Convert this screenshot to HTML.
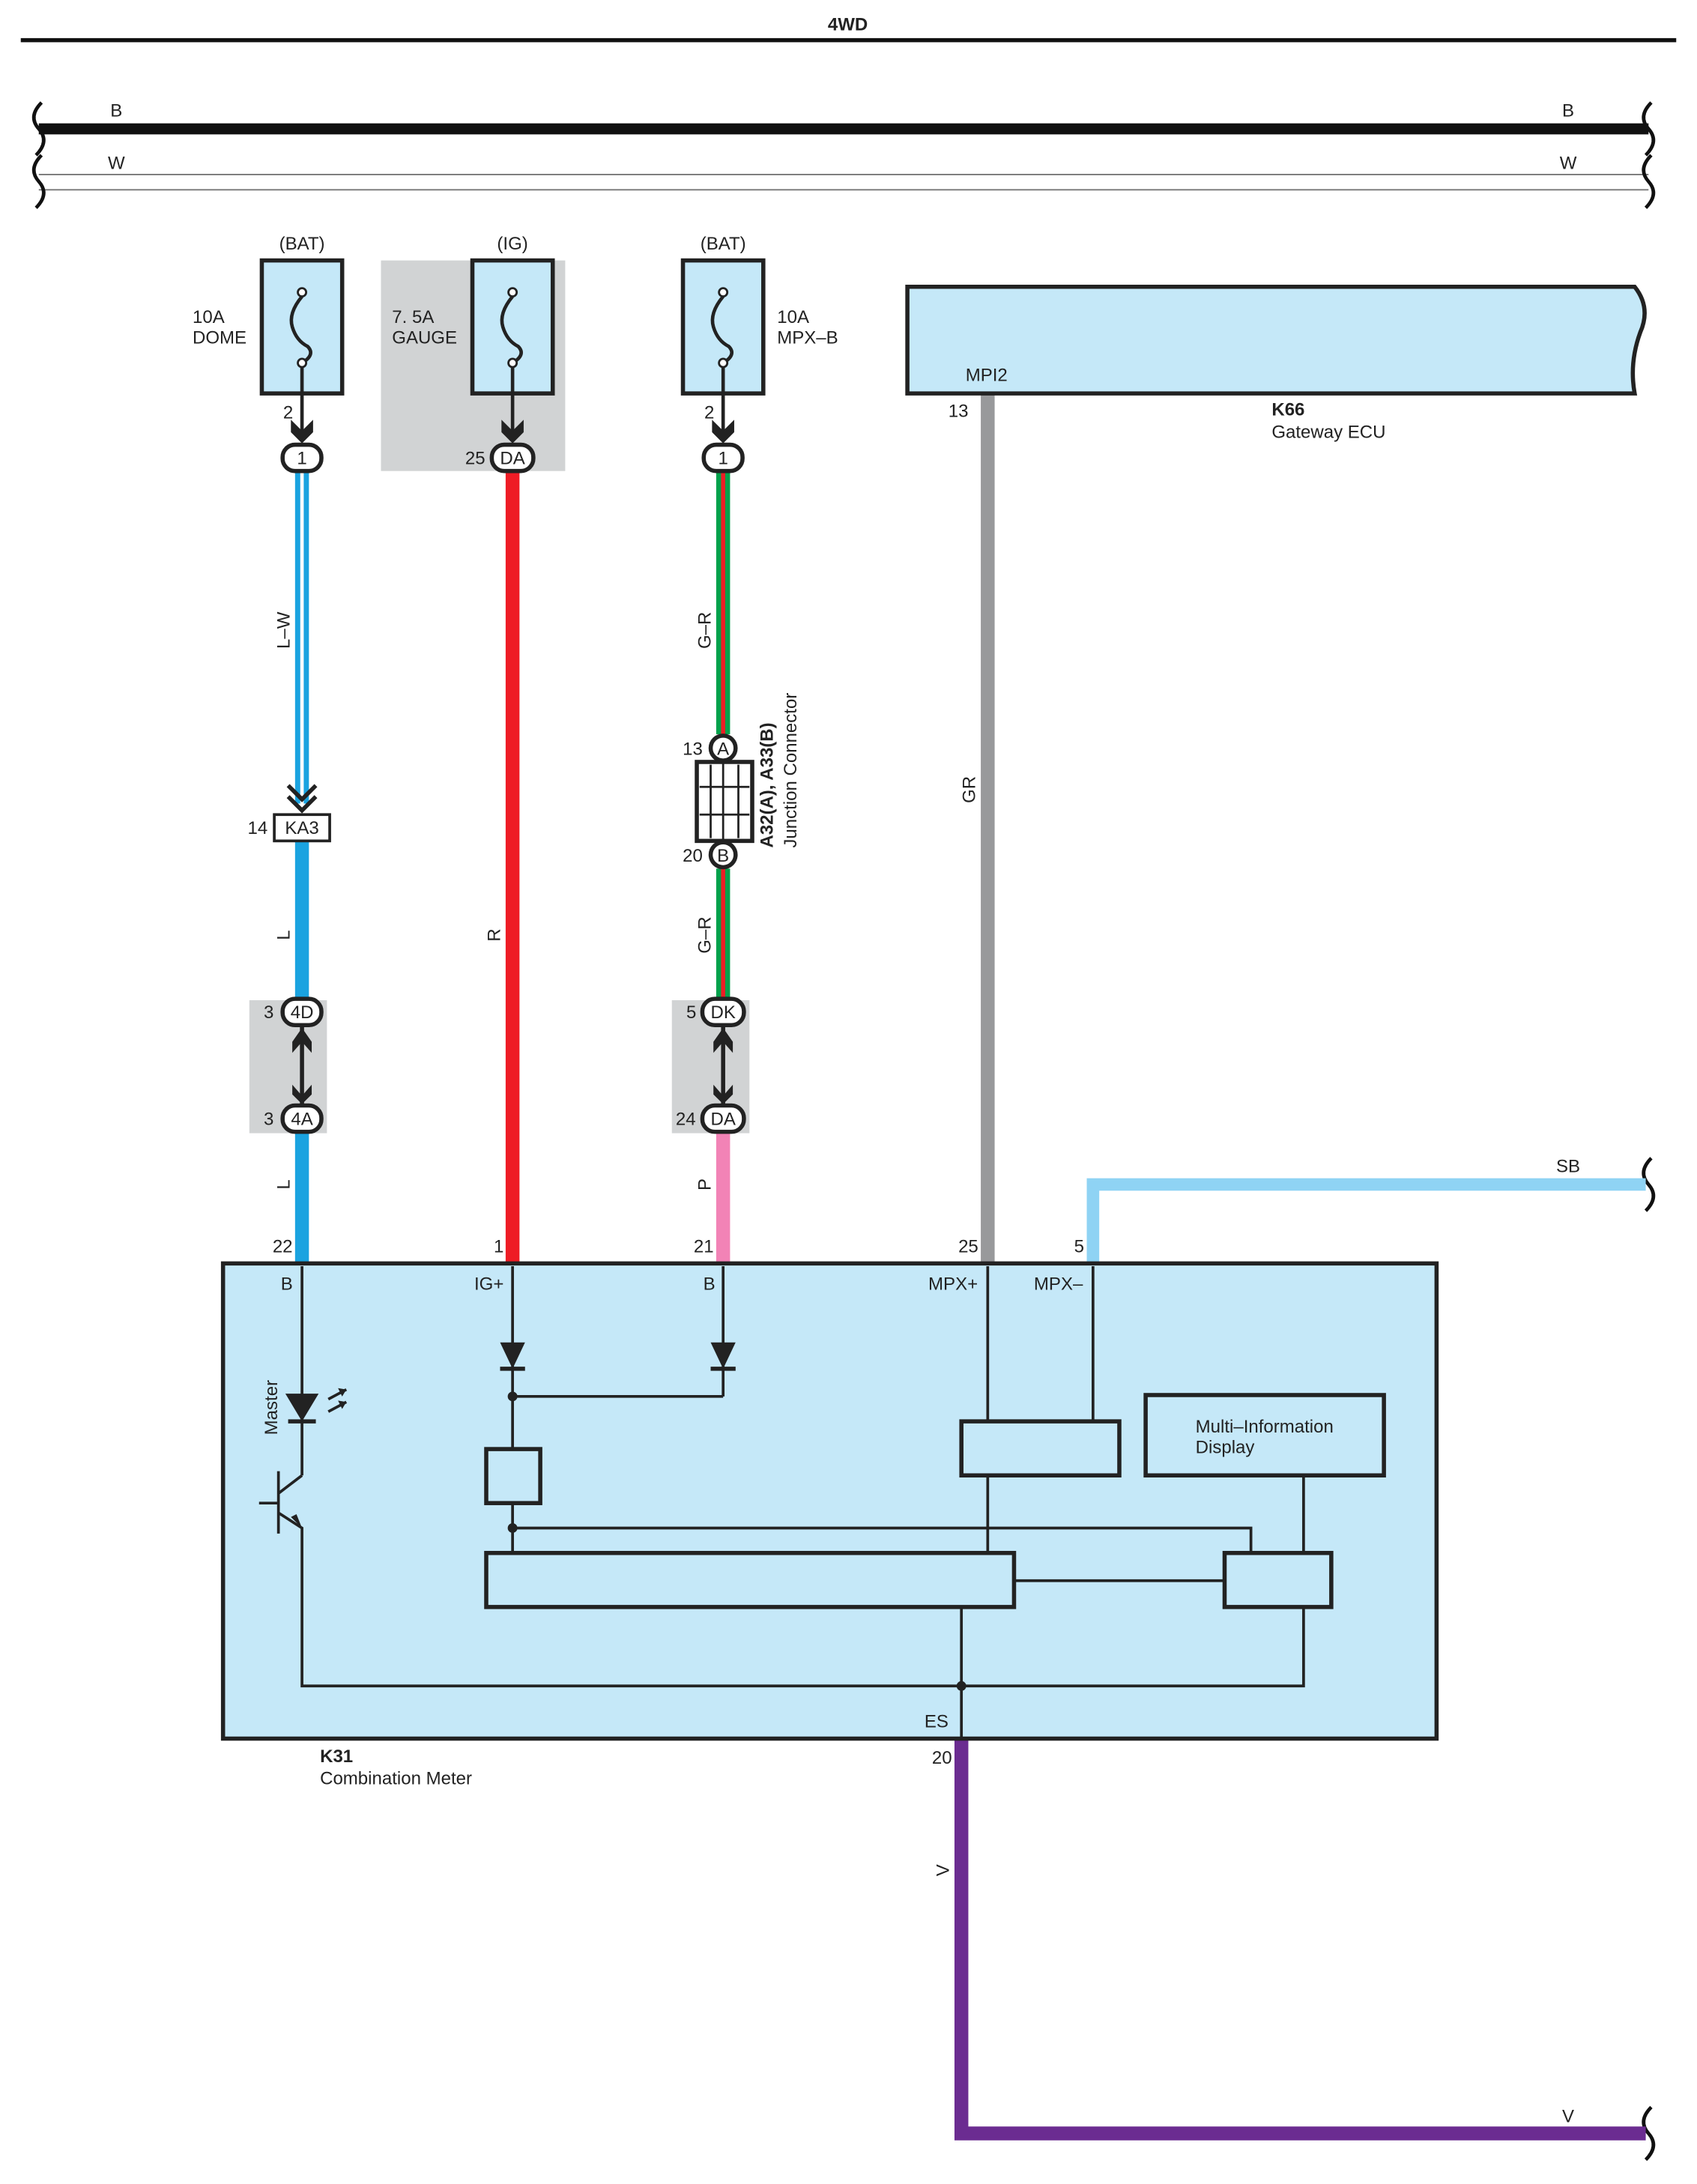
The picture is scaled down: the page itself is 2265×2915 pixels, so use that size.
<!DOCTYPE html>
<html><head><meta charset="utf-8"><style>html,body{margin:0;padding:0;background:#fff}svg{display:block}text{font-family:"Liberation Sans",sans-serif;font-size:13px;fill:#222}</style></head><body>
<svg width="2265" height="2915" viewBox="0 0 1225 1576.5" preserveAspectRatio="none" xmlns="http://www.w3.org/2000/svg">
<text x="612" y="22" text-anchor="middle" font-weight="bold" font-size="15">4WD</text>
<line x1="15" y1="29" x2="1210" y2="29" stroke="#111" stroke-width="3"/>
<!-- buses -->
<line x1="28" y1="93" x2="1190" y2="93" stroke="#111" stroke-width="8"/>
<line x1="28" y1="126" x2="1190" y2="126" stroke="#777" stroke-width="1"/>
<line x1="28" y1="137" x2="1190" y2="137" stroke="#777" stroke-width="1"/>
<g fill="none" stroke="#111" stroke-width="2.5">
<path d="M30 74 Q20 84 28 93 Q36 102 26 112"/><path d="M30 112 Q20 122 28 131 Q36 140 26 150"/>
<path d="M1192 74 Q1182 84 1190 93 Q1198 102 1188 112"/><path d="M1192 112 Q1182 122 1190 131 Q1198 140 1188 150"/>
<path d="M1192 836 Q1182 846 1190 855 Q1198 864 1188 874"/>
<path d="M1192 1521 Q1182 1531 1190 1540 Q1198 1549 1188 1559"/>
</g>
<text x="84" y="84" text-anchor="middle">B</text><text x="1132" y="84" text-anchor="middle">B</text>
<text x="84" y="122" text-anchor="middle">W</text><text x="1132" y="122" text-anchor="middle">W</text>
<!-- gray areas -->
<rect x="275" y="188" width="133" height="152" fill="#d1d3d4"/>
<rect x="180" y="722" width="56" height="96" fill="#d1d3d4"/>
<rect x="485" y="722" width="56" height="96" fill="#d1d3d4"/>
<!-- wires -->
<line x1="218" y1="340" x2="218" y2="580" stroke="#1aa3e0" stroke-width="10"/>
<line x1="218" y1="340" x2="218" y2="580" stroke="#fff" stroke-width="2.5"/>
<line x1="218" y1="607" x2="218" y2="722" stroke="#1aa3e0" stroke-width="10"/>
<line x1="218" y1="815" x2="218" y2="912" stroke="#1aa3e0" stroke-width="10"/>
<line x1="370" y1="340" x2="370" y2="912" stroke="#ee1c25" stroke-width="10"/>
<line x1="522" y1="340" x2="522" y2="530" stroke="#00a14b" stroke-width="10"/>
<line x1="522" y1="340" x2="522" y2="530" stroke="#ee1c25" stroke-width="3"/>
<line x1="522" y1="627" x2="522" y2="722" stroke="#00a14b" stroke-width="10"/>
<line x1="522" y1="627" x2="522" y2="722" stroke="#ee1c25" stroke-width="3"/>
<line x1="522" y1="815" x2="522" y2="912" stroke="#f283b6" stroke-width="10"/>
<line x1="713" y1="284" x2="713" y2="912" stroke="#98999b" stroke-width="10"/>
<polyline points="789,912 789,855 1188,855" fill="none" stroke="#8fd3f4" stroke-width="9"/>
<polyline points="694,1255 694,1540 1188,1540" fill="none" stroke="#6b2c91" stroke-width="10"/>
<!-- wire labels -->
<g font-size="13">
<text transform="translate(209,455) rotate(-90)" text-anchor="middle">L–W</text>
<text transform="translate(209,675) rotate(-90)" text-anchor="middle">L</text>
<text transform="translate(209,855) rotate(-90)" text-anchor="middle">L</text>
<text transform="translate(361,675) rotate(-90)" text-anchor="middle">R</text>
<text transform="translate(513,455) rotate(-90)" text-anchor="middle">G–R</text>
<text transform="translate(513,675) rotate(-90)" text-anchor="middle">G–R</text>
<text transform="translate(513,855) rotate(-90)" text-anchor="middle">P</text>
<text transform="translate(704,570) rotate(-90)" text-anchor="middle">GR</text>
<text transform="translate(685,1350) rotate(-90)" text-anchor="middle">V</text>
</g>
<text x="1132" y="846" text-anchor="middle">SB</text>
<text x="1132" y="1532" text-anchor="middle">V</text>
<!-- fuses -->
<g fill="#c5e8f8" stroke="#222" stroke-width="3">
<rect x="189" y="188" width="58" height="96"/><rect x="341" y="188" width="58" height="96"/><rect x="493" y="188" width="58" height="96"/>
<path d="M655 207 H1180 Q1192 222 1184 240 Q1176 262 1180 284 H655 Z"/>
</g>
<g fill="none" stroke="#222" stroke-width="2.5">
<path d="M218 214 Q208 226 211 236 Q214 246 222 250 Q228 256 218 262"/>
<path d="M370 214 Q360 226 363 236 Q366 246 374 250 Q380 256 370 262"/>
<path d="M522 214 Q512 226 515 236 Q518 246 526 250 Q532 256 522 262"/>
<line x1="218" y1="262" x2="218" y2="318"/><line x1="370" y1="262" x2="370" y2="318"/><line x1="522" y1="262" x2="522" y2="318"/>
</g>
<g fill="#fff" stroke="#222" stroke-width="1.5"><circle cx="218" cy="211" r="3"/><circle cx="218" cy="262" r="3"/><circle cx="370" cy="211" r="3"/><circle cx="370" cy="262" r="3"/><circle cx="522" cy="211" r="3"/><circle cx="522" cy="262" r="3"/></g>
<g fill="#222"><path d="M210 303 L218 311 L226 303 L226 312 L218 320 L210 312Z"/><path d="M362 303 L370 311 L378 303 L378 312 L370 320 L362 312Z"/><path d="M514 303 L522 311 L530 303 L530 312 L522 320 L514 312Z"/></g>
<text x="218" y="180" text-anchor="middle">(BAT)</text><text x="370" y="180" text-anchor="middle">(IG)</text><text x="522" y="180" text-anchor="middle">(BAT)</text>
<text x="139" y="233">10A</text><text x="139" y="248">DOME</text>
<text x="283" y="233">7. 5A</text><text x="283" y="248">GAUGE</text>
<text x="561" y="233">10A</text><text x="561" y="248">MPX–B</text>
<text x="208" y="302" text-anchor="middle">2</text><text x="512" y="302" text-anchor="middle">2</text>
<text x="697" y="275">MPI2</text><text x="699" y="301" text-anchor="end">13</text>
<text x="918" y="300" font-weight="bold">K66</text><text x="918" y="316">Gateway ECU</text>
<!-- connectors -->
<g fill="#fff" stroke="#222" stroke-width="3">
<rect x="204" y="321" width="28" height="19" rx="9"/>
<rect x="355" y="321" width="30" height="19" rx="9"/>
<rect x="508" y="321" width="28" height="19" rx="9"/>
<rect x="204" y="721" width="28" height="19" rx="9"/><rect x="204" y="798" width="28" height="19" rx="9"/>
<rect x="507" y="721" width="30" height="19" rx="9"/><rect x="507" y="798" width="30" height="19" rx="9"/>
<circle cx="522" cy="540" r="9"/><circle cx="522" cy="617" r="9"/>
</g>
<rect x="198" y="588" width="40" height="19" fill="#fff" stroke="#222" stroke-width="2"/>
<text x="218" y="602" text-anchor="middle">KA3</text><text x="186" y="602" text-anchor="middle">14</text>
<g fill="none" stroke="#222" stroke-width="3"><polyline points="208,567 218,577 228,567"/><polyline points="208,575 218,585 228,575"/></g>
<g font-size="13" text-anchor="middle">
<text x="218" y="335">1</text><text x="370" y="335">DA</text><text x="343" y="335">25</text><text x="522" y="335">1</text>
<text x="218" y="735">4D</text><text x="194" y="735">3</text><text x="218" y="812">4A</text><text x="194" y="812">3</text>
<text x="522" y="735">DK</text><text x="499" y="735">5</text><text x="522" y="812">DA</text><text x="495" y="812">24</text>
<text x="522" y="545">A</text><text x="500" y="545">13</text><text x="522" y="622">B</text><text x="500" y="622">20</text>
</g>
<!-- double arrows -->
<g stroke="#222" stroke-width="3"><line x1="218" y1="740" x2="218" y2="798"/><line x1="522" y1="740" x2="522" y2="798"/></g>
<g fill="#222"><path d="M211 752 L218 742 L225 752 L225 760 L218 752 L211 760Z"/><path d="M211 783 L218 791 L225 783 L225 790 L218 797 L211 790Z"/>
<path d="M515 752 L522 742 L529 752 L529 760 L522 752 L515 760Z"/><path d="M515 783 L522 791 L529 783 L529 790 L522 797 L515 790Z"/></g>
<!-- junction block -->
<rect x="503" y="550" width="40" height="57" fill="#fff" stroke="#222" stroke-width="3"/>
<g stroke="#222" stroke-width="1.5"><line x1="513" y1="552" x2="513" y2="605"/><line x1="533" y1="552" x2="533" y2="605"/><line x1="505" y1="568" x2="541" y2="568"/><line x1="505" y1="588" x2="541" y2="588"/><line x1="522" y1="549" x2="522" y2="608"/></g>
<text transform="translate(558,612) rotate(-90)" font-weight="bold">A32(A), A33(B)</text>
<text transform="translate(575,612) rotate(-90)">Junction Connector</text>
<!-- meter -->
<rect x="161" y="912" width="876" height="343" fill="#c5e8f8" stroke="#222" stroke-width="3"/>
<text x="204" y="904" text-anchor="middle">22</text><text x="360" y="904" text-anchor="middle">1</text><text x="508" y="904" text-anchor="middle">21</text><text x="699" y="904" text-anchor="middle">25</text><text x="779" y="904" text-anchor="middle">5</text>
<text x="207" y="931" text-anchor="middle">B</text><text x="353" y="931" text-anchor="middle">IG+</text><text x="512" y="931" text-anchor="middle">B</text><text x="688" y="931" text-anchor="middle">MPX+</text><text x="764" y="931" text-anchor="middle">MPX–</text>
<g fill="none" stroke="#222" stroke-width="2">
<polyline points="218,914 218,1065"/>
<polyline points="218,1065 201,1078"/><line x1="201" y1="1062" x2="201" y2="1107"/><line x1="187" y1="1085" x2="201" y2="1085"/>
<polyline points="201,1092 218,1103 218,1217 941,1217 941,1160"/>
<line x1="370" y1="914" x2="370" y2="1046"/><line x1="522" y1="914" x2="522" y2="1008"/>
<line x1="370" y1="1008" x2="522" y2="1008"/>
<line x1="370" y1="1085" x2="370" y2="1121"/>
<polyline points="370,1103 903,1103 903,1121"/>
<line x1="713" y1="914" x2="713" y2="1026"/><line x1="789" y1="914" x2="789" y2="1026"/>
<line x1="713" y1="1065" x2="713" y2="1121"/>
<line x1="941" y1="1065" x2="941" y2="1121"/>
<line x1="732" y1="1141" x2="884" y2="1141"/>
<line x1="694" y1="1160" x2="694" y2="1255"/>
<line x1="237" y1="1010" x2="250" y2="1003"/><line x1="237" y1="1019" x2="250" y2="1012"/>
</g>
<g fill="none" stroke="#222" stroke-width="3">
<rect x="351" y="1046" width="39" height="39"/><rect x="351" y="1121" width="381" height="39"/><rect x="694" y="1026" width="114" height="39"/><rect x="827" y="1007" width="172" height="58"/><rect x="884" y="1121" width="77" height="39"/>
<line x1="208" y1="1026" x2="228" y2="1026"/><line x1="361" y1="988" x2="379" y2="988"/><line x1="513" y1="988" x2="531" y2="988"/>
</g>
<g fill="#222">
<path d="M206 1006 L230 1006 L218 1026Z"/><path d="M361 969 L379 969 L370 988Z"/><path d="M513 969 L531 969 L522 988Z"/>
<path d="M250 1003 L244 1002 L247 1008Z"/><path d="M250 1012 L244 1011 L247 1017Z"/><path d="M218 1103 L210 1095 L214 1093Z"/>
<circle cx="370" cy="1008" r="3.5"/><circle cx="370" cy="1103" r="3.5"/><circle cx="694" cy="1217" r="3.5"/>
</g>
<text transform="translate(200,1016) rotate(-90)" text-anchor="middle">Master</text>
<text x="863" y="1034">Multi–Information</text><text x="863" y="1049">Display</text>
<text x="676" y="1247" text-anchor="middle">ES</text><text x="680" y="1273" text-anchor="middle">20</text>
<text x="231" y="1272" font-weight="bold">K31</text><text x="231" y="1288">Combination Meter</text>
</svg>
</body></html>
